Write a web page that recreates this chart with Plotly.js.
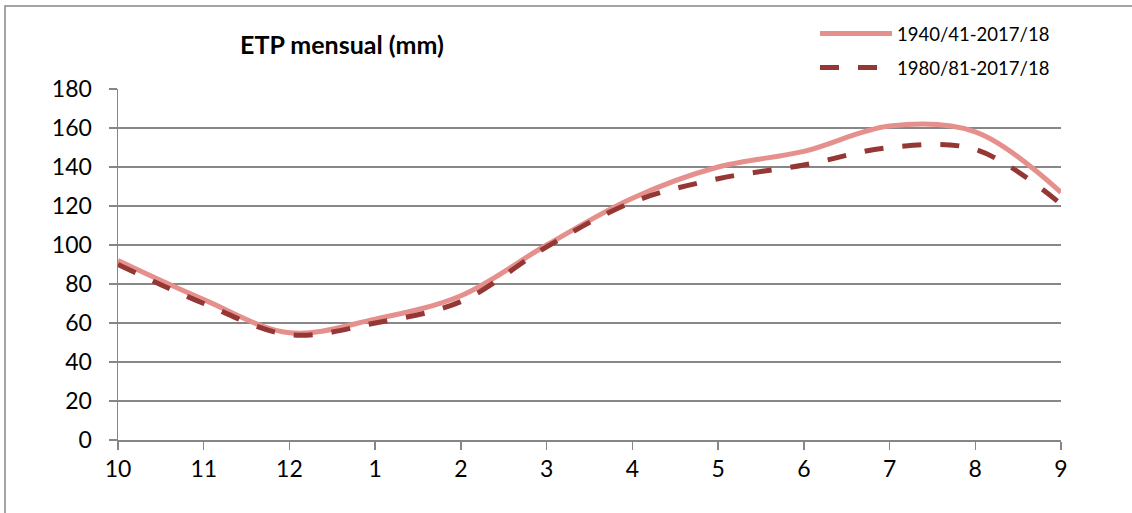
<!DOCTYPE html>
<html>
<head>
<meta charset="utf-8">
<script src="https://cdn.plot.ly/plotly-3.0.1.min.js"></script>
<style>
html,body{margin:0;padding:0;background:#fff;}
#chart{width:1132px;height:513px;}
</style>
</head>
<body>
<div id="chart"></div>
<script>
var months = ['10','11','12','1','2','3','4','5','6','7','8','9'];
var serie1Name = '1940/41-2017/18';
var serie2Name = '1980/81-2017/18';
var serie1 = [92, 72, 55, 62, 74, 100, 124, 140, 148, 161, 158, 127];
var serie2 = [90, 70, 54, 60, 71, 99, 122, 134, 141, 150, 149, 121];
var yTicks = [0, 20, 40, 60, 80, 100, 120, 140, 160, 180];
var titleText = 'ETP mensual (mm)';

var idx = months.map(function(_, i){ return i; });
var FONT = 'Lato, "Open Sans", sans-serif';

var traces = [
  {x: idx, y: serie1, name: serie1Name, type: 'scatter', mode: 'lines', legendgroup: 'a',
   line: {color: '#E6908D', width: 5, shape: 'spline', smoothing: 1}},
  {x: idx, y: serie2, name: serie2Name, type: 'scatter', mode: 'lines', legendgroup: 'b',
   line: {color: '#953735', width: 5, shape: 'spline', smoothing: 1, dash: '19px,19px'}}
];

var layout = {
  width: 1132, height: 513,
  margin: {l: 118, r: 71, t: 89, b: 73, pad: 0, autoexpand: false},
  paper_bgcolor: '#fff', plot_bgcolor: '#fff',
  font: {family: FONT, color: '#000', size: 20},
  title: {text: '<b>' + titleText + '</b>', x: 342/1132, xanchor: 'center', xref: 'container',
          y: 1 - 45/513, yanchor: 'middle', yref: 'container',
          font: {family: FONT, size: 25, color: '#000'}},
  showlegend: true,
  legend: {x: 815/1132, xref: 'container', xanchor: 'left', y: 1 - 15/513, yref: 'container', yanchor: 'top',
           font: {family: FONT, size: 18.5, color: '#000'}, itemwidth: 72, tracegroupgap: 7,
           traceorder: 'grouped', bgcolor: 'rgba(0,0,0,0)'},
  xaxis: {
    range: [0, 11], tickvals: idx, ticktext: months, showgrid: false, zeroline: false,
    showline: true, linecolor: '#868686', linewidth: 1.5,
    ticks: 'outside', ticklen: 8, tickcolor: '#868686', tickwidth: 1.5,
    tickfont: {family: FONT, size: 23, color: '#000'}, fixedrange: true
  },
  yaxis: {
    range: [0, 180], tickvals: yTicks, ticktext: yTicks.map(String), showgrid: true,
    gridcolor: '#878787', gridwidth: 1.5, zeroline: false,
    showline: true, linecolor: '#868686', linewidth: 1.5,
    ticks: 'outside', ticklen: 8, tickcolor: '#868686', tickwidth: 1.5,
    tickfont: {family: FONT, size: 23, color: '#000'}, ticklabelstandoff: 12, fixedrange: true
  },
  shapes: [
    {type: 'rect', xref: 'paper', yref: 'paper',
     x0: (5 - 118)/943, x1: (1140 - 118)/943, y0: (440 - 520)/351, y1: (440 - 6)/351,
     line: {color: '#878787', width: 1.5}, fillcolor: 'rgba(0,0,0,0)', layer: 'below'}
  ]
};

Plotly.newPlot('chart', traces, layout, {displayModeBar: false, staticPlot: true});
</script>
</body>
</html>
